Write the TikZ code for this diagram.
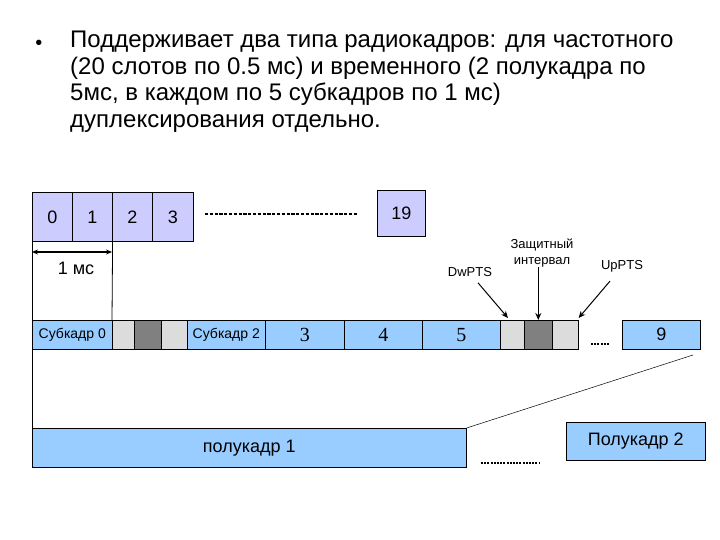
\documentclass[tikz,border=0pt]{standalone}
\usepackage{fontspec}
\setmainfont{Liberation Sans}
\newfontfamily\serifnum{Liberation Serif}
\usetikzlibrary{arrows.meta,calc}
\definecolor{lav}{HTML}{CCCCFF}
\definecolor{sky}{HTML}{99CCFF}
\definecolor{lgr}{HTML}{DCDCDC}
\definecolor{dgr}{HTML}{808080}
\tikzset{
  slot/.style={draw, fill=lav, line width=0.6pt, anchor=north west, inner sep=0pt, minimum height=49pt, text height=13pt, text depth=0pt, font=\fontsize{18}{20}\selectfont},
  sub/.style={draw, fill=sky, line width=0.6pt, anchor=north west, inner sep=0pt, minimum height=29pt},
  gap/.style={draw, line width=0.6pt, anchor=north west, inner sep=0pt, minimum height=29pt},
  lbl/.style={inner sep=0pt, font=\fontsize{13}{15}\selectfont, align=center},
  ptr/.style={-{Stealth[length=7pt,width=6pt]}, line width=1pt},
  thin/.style={line width=0.8pt}
}
\begin{document}
\begin{tikzpicture}[x=1pt,y=-1pt]
\useasboundingbox (0,0) rectangle (720,540);
% title
\node[anchor=north west, inner sep=0pt, align=left, font=\fontsize{24}{26.5}\selectfont] (title) at (70,31)
 {Поддерживает два типа радиокадров: для частотного\\(20 слотов по 0.5 мс) и временного (2 полукадра по\\5мс, в каждом по 5 субкадров по 1 мс)\\дуплексирования отдельно.};
\node[inner sep=0pt, font=\fontsize{20}{22}\selectfont] (bul) at (39,45) {•};
% top slots
\node[slot, minimum width=40pt] (s0) at (32,192) {0};
\node[slot, minimum width=40pt] (s1) at (72,192) {1};
\node[slot, minimum width=40pt] (s2) at (112,192) {2};
\node[slot, minimum width=41pt] (s3) at (152,192) {3};
\node[slot, minimum width=48pt, minimum height=46pt] (s19) at (377,190) {19};
\coordinate (dA) at (205,214);
\coordinate (dB) at (358,214);
\draw[line width=2.6pt, dash pattern=on 3.2pt off 1.6pt] (dA) -- (dB);
% 1 ms
\draw[thin] (s0.south west) -- (32,428);
\draw[thin] (s1.south east) -- (112,320);
\coordinate (mA) at (32,252);
\coordinate (mB) at (112,252);
\draw[{Stealth[length=6pt,width=5pt]}-{Stealth[length=6pt,width=5pt]}, line width=1.5pt] (mA) -- (mB);
\node[lbl, font=\fontsize{18}{20}\selectfont] (ms) at (76,268) {1 мс};
% subframes
\node[sub, minimum width=80pt, font=\fontsize{14}{16}\selectfont] (f0) at (32,320) {Субкадр 0};
\node[gap, fill=lgr, minimum width=22pt] (g1) at (112,320) {};
\node[gap, fill=dgr, minimum width=27pt] (g2) at (134,320) {};
\node[gap, fill=lgr, minimum width=26pt] (g3) at (161,320) {};
\node[sub, minimum width=78pt, font=\fontsize{14}{16}\selectfont] (f2) at (187,320) {Субкадр 2};
\node[sub, minimum width=79pt, font=\serifnum\fontsize{20}{22}\selectfont] (f3) at (265,320) {3};
\node[sub, minimum width=78pt, font=\serifnum\fontsize{20}{22}\selectfont] (f4) at (344,320) {4};
\node[sub, minimum width=78pt, font=\serifnum\fontsize{20}{22}\selectfont] (f5) at (422,320) {5};
\node[gap, fill=lgr, minimum width=24pt] (h1g) at (500,320) {};
\node[gap, fill=dgr, minimum width=28pt] (h2g) at (524,320) {};
\node[gap, fill=lgr, minimum width=26pt] (h3g) at (552,320) {};
\node[sub, minimum width=78pt, font=\fontsize{18}{20}\selectfont] (f9) at (622,320) {9};
\coordinate (eA) at (591,344);
\coordinate (eB) at (610,344);
\draw[line width=1.6pt, dash pattern=on 2pt off 1.2pt] (eA) -- (eB);
% labels and pointers
\node[lbl] (dw) at (470,272) {DwPTS};
\node[lbl, font=\fontsize{13}{15.5}\selectfont] (gi) at (542,253) {Защитный\\интервал};
\node[lbl] (up) at (622,266) {UpPTS};
\draw[ptr] ($(dw.south)+(8,6)$) -- ($(h1g.north west)+(8,-2)$);
\draw[ptr] (gi.south -| h2g.north) -- (h2g.north);
\draw[ptr] ($(up.south)+(-12,9)$) -- ($(h3g.north east)+(0,-2)$);
% half-frames
\node[sub, minimum width=434pt, minimum height=39pt, font=\fontsize{18}{20}\selectfont] (hf1) at (32,428) {полукадр 1};
\node[sub, minimum width=139pt, minimum height=38pt, font=\fontsize{18}{20}\selectfont] (hf2) at (566,422) {Полукадр 2};
\coordinate (d9) at (693,355);
\draw[line width=0.5pt] (hf1.north east) -- (d9);
\coordinate (bA) at (481,463);
\coordinate (bB) at (540,463);
\draw[line width=1.6pt, dash pattern=on 2pt off 1.2pt] (bA) -- (bB);
\end{tikzpicture}
\end{document}
